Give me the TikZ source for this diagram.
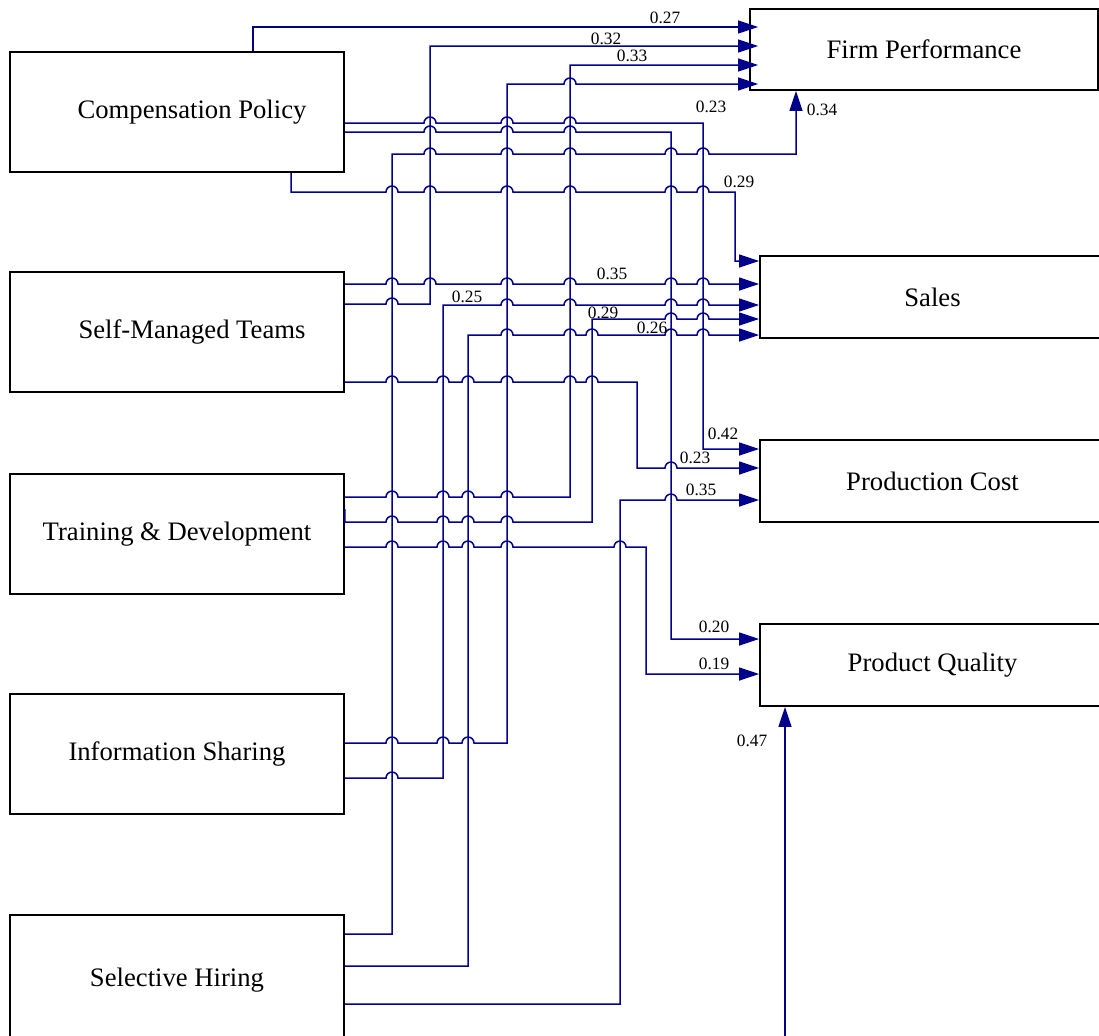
\documentclass[tikz,border=0pt]{standalone}
\usepackage{fontspec}
\setmainfont{Liberation Serif}
\usetikzlibrary{arrows.meta,calc}
\definecolor{linkblue}{RGB}{0,0,139}
% horizontal run at height #1 that hops over the verticals at #2
\newcommand{\hops}[2]{\foreach \h in {#2} {-- (\h-6,#1) arc[start angle=180,end angle=0,radius=3.6pt]}}

\begin{document}
\begin{tikzpicture}[x=0.6pt,y=-0.6pt,
    srcbox/.style={draw=black, line width=1.1pt, inner sep=0pt,
      minimum width=200.4pt, minimum height=72pt, font=\fontsize{16}{19}\selectfont},
    outbox/.style={draw=black, line width=1.1pt, inner sep=0pt,
      minimum width=207pt, minimum height=49.2pt, font=\fontsize{16}{19}\selectfont},
    link/.style={draw=linkblue, line width=0.9pt, -{Triangle[length=12pt,width=7.8pt]}},
    lbl/.style={font=\fontsize{10.4}{12}\selectfont, inner sep=0pt}]
    \useasboundingbox (0,0) rectangle (1099,1035);

    % HR practices
    \node[srcbox] (cp) at (177,112) {\hspace*{18pt}Compensation Policy};
    \node[srcbox] (smt) at (177,332) {\hspace*{18pt}Self-Managed Teams};
    \node[srcbox] (td) at (177,534) {Training \& Development};
    \node[srcbox] (is) at (177,754) {Information Sharing};
    \node[srcbox, minimum height=78pt] (sh) at (177,980) {\raisebox{3pt}{Selective Hiring}};

    % Outcomes
    \node[outbox, minimum width=208.8pt, minimum height=48.6pt] (fp) at (924,49.5) {Firm Performance};
    \node[outbox] (sales) at (932.5,297) {Sales};
    \node[outbox] (pc) at (932.5,481) {Production Cost};
    \node[outbox] (pq) at (932.5,665) {Product Quality};
    \coordinate (fptip) at ([xshift=5.4pt]fp.west);
    \coordinate (qsrc) at (785,1040);

    % Compensation Policy
    \draw[link] (cp.north -| 253,0) |- (fptip |- 0,27);
    \draw[link] (cp.east |- 0,123) \hops{123}{430,507,570} -- (703,123) |- (pc.west |- 0,449);
    \draw[link] (cp.east |- 0,132) \hops{132}{430,507,570} -- (671,132) |- (pq.west |- 0,639);
    \draw[link] (cp.south -| 291,0) -- (291,192) \hops{192}{392,430,507,570,671,703} -- (735,192) |- (sales.west |- 0,261);

    % Self-Managed Teams
    \draw[link] (smt.east |- 0,284) \hops{284}{392,430,507,570,671,703} -- (sales.west |- 0,284);
    \draw[link] (smt.east |- 0,304) \hops{304}{392} -- (430,304) |- (fptip |- 0,46);
    \draw[link] (smt.east |- 0,382) \hops{382}{392,443,468,507,570,592} -- (637,382) -- (637,468) \hops{468}{671} -- (pc.west |- 0,468);

    % Training & Development
    \draw[link] (td.east |- 0,497) \hops{497}{392,443,468,507} -- (570,497) |- (fptip |- 0,65);
    \draw[link] (td.east |- 0,509) -- (td.east |- 0,522) \hops{522}{392,443,468,507} -- (592,522) -- (592,319) \hops{319}{671,703} -- (sales.west |- 0,319);
    \draw[link] (td.east |- 0,547) \hops{547}{392,443,468,507,620} -- (646,547) |- (pq.west |- 0,674);

    % Information Sharing
    \draw[link] (is.east |- 0,743) \hops{743}{392,443,468} -- (507,743) -- (507,84) \hops{84}{570} -- (fptip |- 0,84);
    \draw[link] (is.east |- 0,778) \hops{778}{392} -- (443,778) -- (443,305) \hops{305}{507,570,671,703} -- (sales.west |- 0,305);

    % Selective Hiring
    \draw[link] (sh.east |- 0,934) -- (392,934) -- (392,154) \hops{154}{430,507,570,671,703} -- (796,154) -- (fp.south -| 796,0);
    \draw[link] (sh.east |- 0,966) -- (468,966) -- (468,335) \hops{335}{507,570,592,671,703} -- (sales.west |- 0,335);
    \draw[link] (sh.east |- 0,1004) -- (620,1004) -- (620,500) \hops{500}{671} -- (pc.west |- 0,500);
    \draw[link] (qsrc) -- (pq.south -| 785,0);

    % Path coefficients
    \node[lbl] (w1) at (665,18) {0.27};
    \node[lbl] (w2) at (606,39) {0.32};
    \node[lbl] (w3) at (632,56) {0.33};
    \node[lbl] (w4) at (711,107) {0.23};
    \node[lbl] (w5) at (822,110) {0.34};
    \node[lbl] (w6) at (739,182) {0.29};
    \node[lbl] (w7) at (612,274) {0.35};
    \node[lbl] (w8) at (467,297) {0.25};
    \node[lbl] (w9) at (603,313) {0.29};
    \node[lbl] (w10) at (652,328) {0.26};
    \node[lbl] (w11) at (723,434) {0.42};
    \node[lbl] (w12) at (695,458) {0.23};
    \node[lbl] (w13) at (701,490) {0.35};
    \node[lbl] (w14) at (714,627) {0.20};
    \node[lbl] (w15) at (714,664) {0.19};
    \node[lbl] (w16) at (752,741) {0.47};
\end{tikzpicture}
\end{document}
